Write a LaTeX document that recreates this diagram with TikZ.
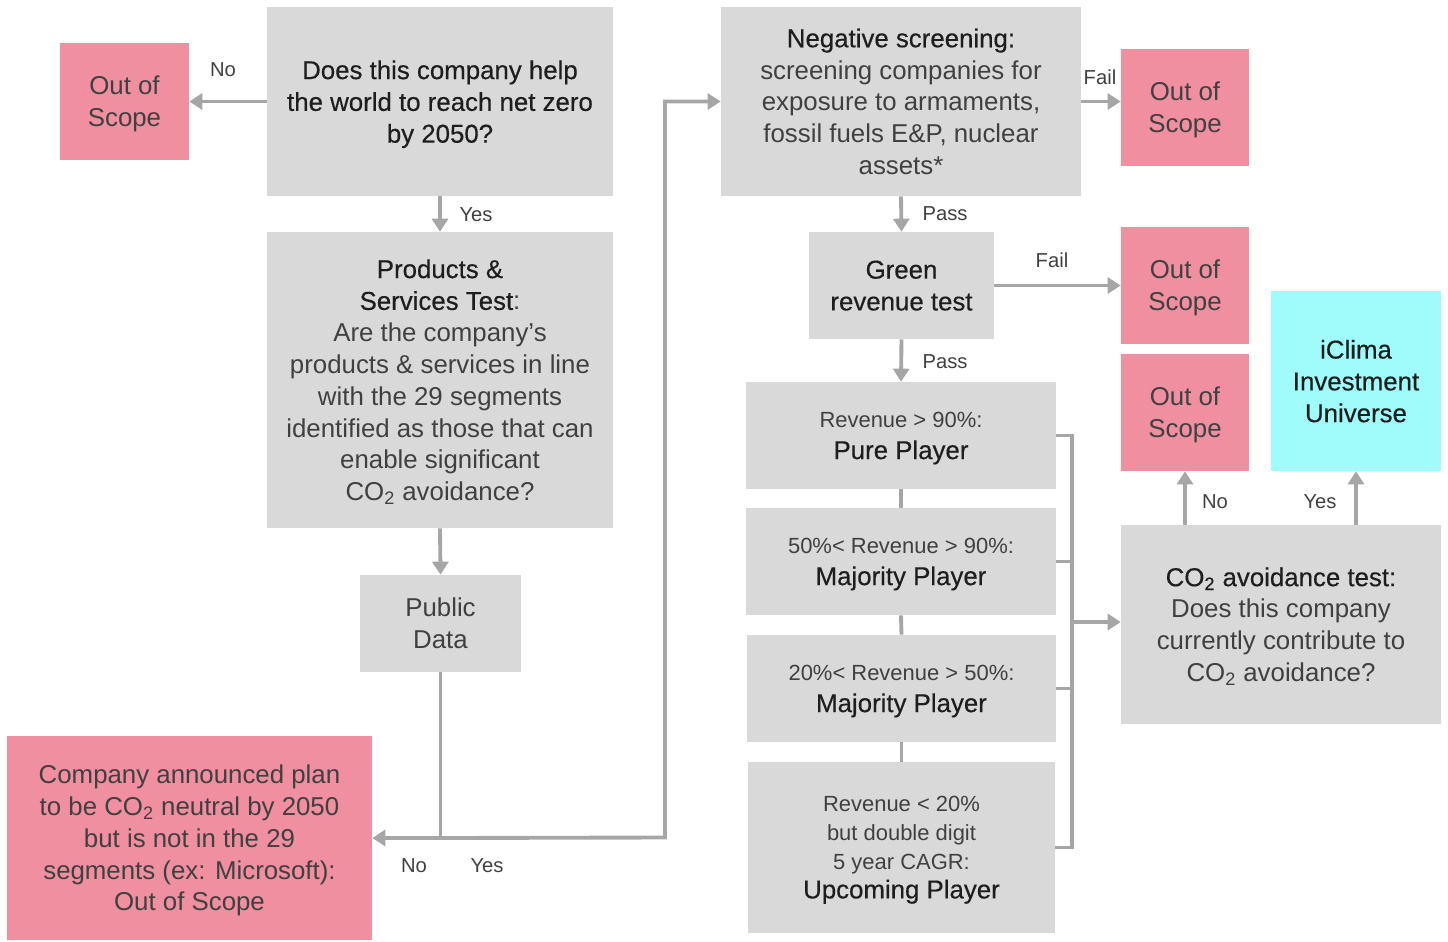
\documentclass[tikz,border=0pt]{standalone}
\usepackage{fontspec}
\setmainfont{Liberation Sans}
\newfontface\headface{Liberation Sans}[FakeBold=0.4]
\usetikzlibrary{positioning,arrows.meta}
\definecolor{boxgrey}{HTML}{D9D9D9}
\definecolor{boxpink}{HTML}{EF8FA0}
\definecolor{boxcyan}{HTML}{A0FBFB}
\definecolor{linegrey}{HTML}{A6A6A6}
\definecolor{headcol}{HTML}{1E1E1E}
\definecolor{bodycol}{HTML}{404040}
\newcommand{\boxhead}[1]{{\headface\color{headcol}#1}}
\newcommand{\smalltxt}{\fontsize{12.5}{16.4}\selectfont}
\newcommand{\bigtxt}{\fontsize{14.7}{18.1}\selectfont}
\newcommand{\cotwo}{CO\textsubscript{2}}
\begin{document}
\begin{tikzpicture}[x=0.02cm,y=-0.02cm,
  greybox/.style={fill=boxgrey,inner sep=0pt,align=center,text=bodycol,font=\bigtxt,text depth=0pt},
  outbox/.style={greybox,fill=boxpink,minimum width=2.56cm,minimum height=2.34cm},
  cyanbox/.style={greybox,fill=boxcyan},
  arr/.style={draw=linegrey,line width=2.2pt,-{Triangle[length=0.26cm,width=0.32cm]}},
  link/.style={draw=linegrey,line width=2.2pt},
  lbl/.style={text=bodycol,font=\fontsize{11.5}{14}\selectfont,inner sep=0pt}]
  \useasboundingbox (0,0) rectangle (1448,941);
  % left column
  \node(oos1)[outbox,minimum width=2.58cm] at (124.5,101.5) {Out of\\Scope};
  \node(q1)[greybox,minimum width=6.92cm,minimum height=3.78cm] at (440,101.5)
    {\boxhead{Does this company help}\\\boxhead{the world to reach net zero}\\\boxhead{by 2050?}};
  \node(prod)[greybox,minimum width=6.92cm,minimum height=5.92cm] at (440,380)
    {\boxhead{Products \&}\\\boxhead{Services Test}:\\Are the company's\\products \& services in line\\with the 29 segments\\identified as those that can\\enable significant\\\cotwo{} avoidance?};
  \node(pub)[greybox,minimum width=3.22cm,minimum height=1.94cm] at (440.5,623.5) {Public\\Data};
  \node(plan)[outbox,minimum width=7.3cm,minimum height=4.08cm] at (189.5,838)
    {Company announced plan\\to be \cotwo{} neutral by 2050\\but is not in the 29\\segments (ex: Microsoft):\\Out of Scope};
  % middle column
  \node(neg)[greybox,minimum width=7.2cm,minimum height=3.78cm] at (901,101.5)
    {\boxhead{Negative screening:}\\screening companies for\\exposure to armaments,\\fossil fuels E\&P, nuclear\\assets*};
  \node(green)[greybox,minimum width=3.7cm,minimum height=2.14cm] at (901.5,285.5)
    {\boxhead{Green}\\\boxhead{revenue test}};
  \node(pure)[greybox,minimum width=6.2cm,minimum height=2.14cm] at (901,435.5)
    {{\smalltxt Revenue > 90\%:}\\\boxhead{Pure Player}};
  \node(maj1)[greybox,minimum width=6.2cm,minimum height=2.14cm] at (901,561.5)
    {{\smalltxt 50\%< Revenue > 90\%:}\\\boxhead{Majority Player}};
  \node(maj2)[greybox,minimum width=6.18cm,minimum height=2.14cm] at (901.5,688.5)
    {{\smalltxt 20\%< Revenue > 50\%:}\\\boxhead{Majority Player}};
  \node(upc)[greybox,minimum width=6.14cm,minimum height=3.42cm,font=\smalltxt] at (901.5,847.5)
    {Revenue < 20\%\\but double digit\\5 year CAGR:\\{\bigtxt\boxhead{Upcoming Player}}};
  % right column
  \node(oos2)[outbox] at (1185,107.5) {Out of\\Scope};
  \node(oos3)[outbox] at (1185,285.5) {Out of\\Scope};
  \node(oos4)[outbox] at (1185,412.5) {Out of\\Scope};
  \node(iclima)[cyanbox,minimum width=3.4cm,minimum height=3.6cm] at (1356,381)
    {\boxhead{iClima}\\\boxhead{Investment}\\\boxhead{Universe}};
  \node(co2)[greybox,minimum width=6.4cm,minimum height=3.98cm] at (1281,624.5)
    {\boxhead{\cotwo{} avoidance test:}\\Does this company\\currently contribute to\\\cotwo{} avoidance?};
  % helper points
  \coordinate(jn) at (pub.south |- plan.east);
  \coordinate(turn) at (665,837.5);
  \coordinate(bx) at (1072,0);
  % connectors
  \draw[arr](q1.west) -- (oos1.east);
  \draw[arr](q1.south) -- (prod.north);
  \draw[arr](prod.south) -- (pub.north);
  \draw[arr](pub.south) -- (jn) -- (plan.east);
  \draw[arr](jn) -- (turn) |- (neg.west);
  \draw[arr](neg.east) -- (neg.east -| oos2.west);
  \draw[arr](neg.south) -- (green.north);
  \draw[arr](green.east) -- (green.east -| oos3.west);
  \draw[arr](green.south) -- (pure.north);
  \draw[link](pure.south) -- (maj1.north);
  \draw[link](maj1.south) -- (maj2.north);
  \draw[link](maj2.south) -- (upc.north);
  \draw[link](pure.east) -- (pure.east -| bx) -- (bx |- upc.east) -- (upc.east);
  \draw[link](maj1.east) -- (maj1.east -| bx);
  \draw[link](maj2.east) -- (maj2.east -| bx);
  \draw[arr](bx |- 0,622) -- (co2.west |- 0,622);
  \draw[arr](co2.north -| oos4.south) -- (oos4.south);
  \draw[arr](co2.north -| iclima.south) -- (iclima.south);
  % labels
  \node(lno1)[lbl] at (223,70) {No};
  \node(lyes1)[lbl] at (476,215) {Yes};
  \node(lno2)[lbl] at (414,866) {No};
  \node(lyes2)[lbl] at (487,866) {Yes};
  \node(lpass1)[lbl] at (945,214) {Pass};
  \node(lfail1)[lbl] at (1100,77) {Fail};
  \node(lfail2)[lbl] at (1052,260) {Fail};
  \node(lpass2)[lbl] at (945,362) {Pass};
  \node(lno3)[lbl] at (1215,502) {No};
  \node(lyes3)[lbl] at (1320,502) {Yes};
\end{tikzpicture}
\end{document}
